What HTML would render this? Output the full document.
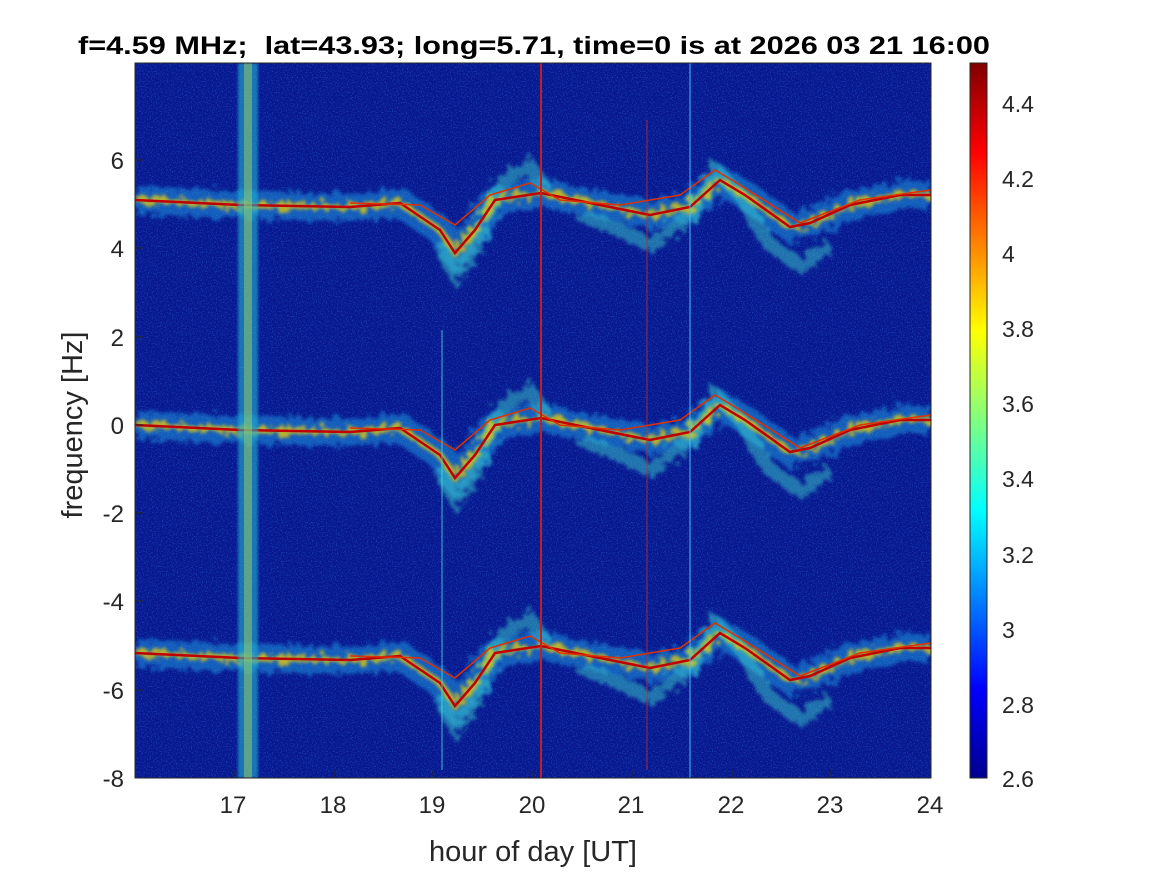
<!DOCTYPE html>
<html><head><meta charset="utf-8"><style>
body{margin:0;background:#fff;}
svg{display:block;font-family:"Liberation Sans",sans-serif;}
</style></head><body>
<svg width="1167" height="875" viewBox="0 0 1167 875" xmlns="http://www.w3.org/2000/svg">
<defs>
<linearGradient id="jet" x1="0" y1="1" x2="0" y2="0">
<stop offset="0" stop-color="#00008f"/>
<stop offset="0.125" stop-color="#0000ff"/>
<stop offset="0.375" stop-color="#00ffff"/>
<stop offset="0.625" stop-color="#ffff00"/>
<stop offset="0.875" stop-color="#ff0000"/>
<stop offset="1" stop-color="#800000"/>
</linearGradient>
<filter id="noise" x="0" y="0" width="100%" height="100%">
<feTurbulence type="fractalNoise" baseFrequency="0.8" numOctaves="1" seed="3"/>
<feColorMatrix type="matrix" values="0 0 0 0 0.05  0 0 0 0 0.3  0 0 0 0 1  0 0 0 1.6 -0.8"/>
</filter>
<filter id="rough" x="-10%" y="-50%" width="120%" height="200%">
<feTurbulence type="fractalNoise" baseFrequency="0.15" numOctaves="2" seed="7" result="t"/>
<feDisplacementMap in="SourceGraphic" in2="t" scale="18"/>
<feGaussianBlur stdDeviation="1.5"/>
</filter>
<filter id="bl2" x="-10%" y="-50%" width="120%" height="200%"><feGaussianBlur stdDeviation="1.2"/></filter>
<clipPath id="pc"><rect x="135" y="63" width="796" height="715"/></clipPath>
<g id="band">
<path d="M135,425 L240,430 L350,432 L400,428 L440,455 L455,478 L475,455 L495,425 L541,418 L600,430 L650,440 L690,432 L720,405 L745,420 L790,452 L810,448 L850,430 L900,420 L931,420" fill="none" stroke="#20b0f0" stroke-width="28" opacity="0.45" filter="url(#rough)"/>
<path d="M440,470 L455,500 L470,480 L500,410 L530,390 L545,415 M580,440 L620,455 L650,470 L690,440 L715,395 L740,420 L770,470 L800,490 L830,470" fill="none" stroke="#40e0d0" stroke-width="14" opacity="0.45" filter="url(#rough)"/>
<path d="M135,425 L240,430 L350,432 L400,428 L440,455 L455,478 L475,455 L495,425 L541,418 L600,430 L650,440 L690,432 L720,405 L745,420 L790,452 L810,448 L850,430 L900,420 L931,420" fill="none" stroke="#f0d000" stroke-width="7" opacity="0.75" filter="url(#rough)"/>
<path d="M135,425 L240,430 L350,432 L400,428 L440,455 L455,478 L475,455 L495,425 L541,418 L600,430 L650,440 L690,432 L720,405 L745,420 L790,452 L810,448 L850,430 L900,420 L931,420" fill="none" stroke="#c00000" stroke-width="2.5"/>
<path d="M350,428 L420,430 L455,450 L490,420 L530,408 L560,425 L620,430 L680,420 L715,395 L740,410 L800,448 L860,425 L931,415" fill="none" stroke="#e03000" stroke-width="1.5"/>
</g>
</defs>
<rect x="135" y="63" width="796" height="715" fill="#08188f"/>
<rect x="135" y="63" width="796" height="715" filter="url(#noise)" opacity="0.75"/>
<g clip-path="url(#pc)">
<use href="#band"/>
<use href="#band" transform="translate(0,-225)"/>
<use href="#band" transform="translate(0,228)"/>
<rect x="238" y="63" width="20" height="715" fill="#20b0d0" opacity="0.6" filter="url(#bl2)"/>
<rect x="244" y="63" width="8" height="715" fill="#a0d060" opacity="0.5"/>
<rect x="540" y="63" width="2" height="715" fill="#c02020"/>
<rect x="689" y="63" width="2" height="715" fill="#40c0ff" opacity="0.5"/>
<rect x="646" y="120" width="2" height="650" fill="#c03020" opacity="0.4"/>
<rect x="441" y="330" width="2" height="440" fill="#40e0e0" opacity="0.4"/>
</g>
<rect x="135" y="63" width="796" height="715" fill="none" stroke="#262626" stroke-width="1"/>
<g font-size="24" fill="#262626" text-anchor="end">
<text x="124" y="787">-8</text><text x="124" y="699">-6</text><text x="124" y="610">-4</text>
<text x="124" y="522">-2</text><text x="124" y="434">0</text><text x="124" y="346">2</text>
<text x="124" y="257">4</text><text x="124" y="169">6</text>
</g>
<g stroke="#262626" stroke-width="1">
<line x1="135" y1="778" x2="143" y2="778"/><line x1="135" y1="690" x2="143" y2="690"/>
<line x1="135" y1="601" x2="143" y2="601"/><line x1="135" y1="513" x2="143" y2="513"/>
<line x1="135" y1="425" x2="143" y2="425"/><line x1="135" y1="337" x2="143" y2="337"/>
<line x1="135" y1="248" x2="143" y2="248"/><line x1="135" y1="160" x2="143" y2="160"/>
<line x1="234" y1="778" x2="234" y2="770"/><line x1="334" y1="778" x2="334" y2="770"/>
<line x1="433" y1="778" x2="433" y2="770"/><line x1="533" y1="778" x2="533" y2="770"/>
<line x1="632" y1="778" x2="632" y2="770"/><line x1="732" y1="778" x2="732" y2="770"/>
<line x1="831" y1="778" x2="831" y2="770"/>
</g>
<g font-size="24" fill="#262626" text-anchor="middle">
<text x="233" y="813">17</text><text x="333" y="813">18</text><text x="432" y="813">19</text>
<text x="532" y="813">20</text><text x="631" y="813">21</text><text x="731" y="813">22</text>
<text x="830" y="813">23</text><text x="930" y="813">24</text>
</g>
<text x="533" y="861" font-size="29" fill="#262626" text-anchor="middle">hour of day [UT]</text>
<text transform="translate(82,425) rotate(-90)" font-size="29" fill="#262626" text-anchor="middle">frequency [Hz]</text>
<text x="78" y="54" font-size="25" font-weight="bold" fill="#000" textLength="912" lengthAdjust="spacingAndGlyphs" xml:space="preserve">f=4.59 MHz;  lat=43.93; long=5.71, time=0 is at 2026 03 21 16:00</text>
<rect x="970" y="63" width="17" height="715" fill="url(#jet)" stroke="#262626" stroke-width="1"/>
<g font-size="23" fill="#262626">
<text x="1002" y="112">4.4</text><text x="1002" y="187">4.2</text><text x="1002" y="262">4</text>
<text x="1002" y="337">3.8</text><text x="1002" y="412">3.6</text><text x="1002" y="487">3.4</text>
<text x="1002" y="563">3.2</text><text x="1002" y="638">3</text><text x="1002" y="713">2.8</text>
<text x="1002" y="787">2.6</text>
</g>
</svg>
</body></html>
